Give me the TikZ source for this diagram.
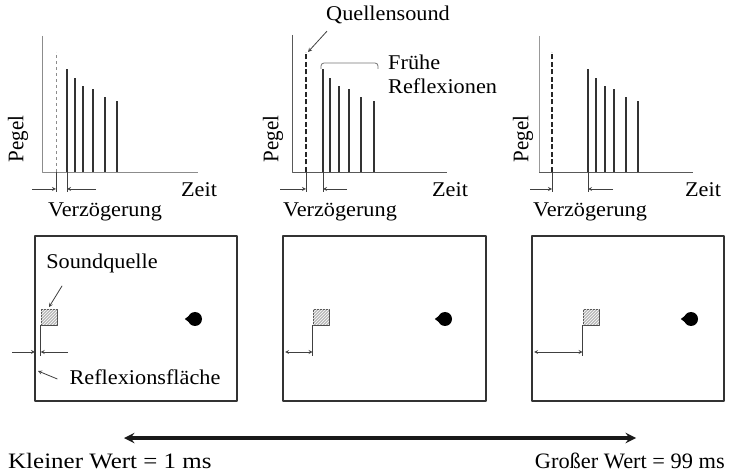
\documentclass[tikz,border=0pt]{standalone}
\usepackage{fontspec}
\setmainfont{Liberation Serif}
\usetikzlibrary{patterns}

\begin{document}
\begin{tikzpicture}[
        x={(1pt,0pt)},
        y={(0pt,-1pt)},
        line join=round,
        % Stile
        axis/.style={black!65, line width=0.9pt},
        bar/.style={black!80, line width=2.2pt},
        direct/.style={black!85, line width=2.2pt, dash pattern=on 5pt off 2.5pt},
        dim/.style={black!75, line width=0.8pt},
        room/.style={black!80, line width=2.4pt},
        lbl/.style={font=\fontsize{21}{24}\selectfont, inner sep=0pt, xscale=1.06},
        srcbox/.style={draw=black!70, line width=0.8pt, fill=gray!55, minimum size=16pt,
            inner sep=0pt, postaction={pattern=north east lines, pattern color=white}},
        listener/.style={circle, fill=black, minimum size=14pt, inner sep=0pt},
    ]
    \useasboundingbox (0,0) rectangle (729,473);

    % ---------- obere Reihe: Pegel ueber Zeit ----------
    % Panel 1 (kleine Verzoegerung)
    \def\ax{42}\def\dx{56}\def\bx{67}
    \draw[axis, black!45] (\ax,36) -- (\ax,172) -- (198,172);
    \draw[black!45, dashed, line width=0.9pt] (\dx,172) -- (\dx,52);
    \foreach \o/\t in {0/69,8/78,16/86,26/89,38/97,50/101}
        \draw[bar] (\bx+\o,172) -- (\bx+\o,\t);
    \draw[dim] (\dx,172) -- (\dx,192);
    \draw[dim] (\bx,172) -- (\bx,192);
    \draw[dim,-stealth] (\dx-24,189) -- (\dx,189);
    \draw[dim,-stealth] (\bx+29,189) -- (\bx,189);
    \node[lbl, rotate=90] (p1) at (\ax-24,139) {Pegel};
    \node[lbl] (z1) at (\ax+157,190) {Zeit};
    \node[lbl] (v1) at (105,212) {Verzögerung};

    % Panel 2 (mittlere Verzoegerung)
    \def\ax{292}\def\dx{306}\def\bx{323}
    \draw[axis] (\ax,35) -- (\ax,172) -- (447,172);
    \draw[direct] (\dx,172) -- (\dx,52);
    \foreach \o/\t in {0/69,7/78,16/86,26/89,38/97,51/101}
        \draw[bar] (\bx+\o,172) -- (\bx+\o,\t);
    \draw[dim] (\dx,172) -- (\dx,192);
    \draw[dim] (\bx,172) -- (\bx,192);
    \draw[dim,-stealth] (\dx-26,189) -- (\dx,189);
    \draw[dim,-stealth] (\bx+24,189) -- (\bx,189);
    \node[lbl, rotate=90] (p2) at (\ax-19,139) {Pegel};
    \node[lbl] (z2) at (\ax+158,190) {Zeit};
    \node[lbl] (v2) at (340,212) {Verzögerung};
    % Beschriftung Quellensound / fruehe Reflexionen
    \coordinate (qtip) at (308,52);
    \node[lbl] (qs) at (388,15) {Quellensound};
    \draw[dim,-stealth] ([shift={(1pt,-7pt)}]qs.south west) -- (qtip);
    \node[lbl, anchor=west] (fr) at (388,62) {Frühe};
    \node[lbl, anchor=west] (rx) at (388,86) {Reflexionen};
    \draw[dim, black!55, rounded corners=3pt] (321,69) -- (321,63) -- (378,63) -- (378,69);

    % Panel 3 (grosse Verzoegerung)
    \def\ax{539}\def\dx{552}\def\bx{588}
    \draw[axis, black!40] (\ax,36) -- (\ax,172);
    \draw[axis] (\ax,172) -- (693,172);
    \draw[direct] (\dx,172) -- (\dx,52);
    \foreach \o/\t in {0/69,8/78,17/86,26/89,38/97,50/101}
        \draw[bar] (\bx+\o,172) -- (\bx+\o,\t);
    \draw[dim] (\dx,172) -- (\dx,192);
    \draw[dim] (\bx,172) -- (\bx,192);
    \draw[dim,-stealth] (\dx-22,189) -- (\dx,189);
    \draw[dim,-stealth] (\bx+25,189) -- (\bx,189);
    \node[lbl, rotate=90] (p3) at (\ax-16,139) {Pegel};
    \node[lbl] (z3) at (703,190) {Zeit};
    \node[lbl] (v3) at (590,212) {Verzögerung};

    % ---------- untere Reihe: Raeume ----------
    % Raum 1
    \draw[room] (35,236) rectangle (237,401);
    \node[srcbox] (s1) at (49,317) {};
    \coordinate (f1) at (s1.south west |- 0,356);
    \draw[dim] (s1.south west) -- (f1);
    \coordinate (w1) at (35,352);
    \draw[dim,-stealth] (12,352) -- (w1);
    \draw[dim,-stealth] (68,352) -- (w1 -| s1.west);
    \node[listener] (h1) at (195,319) {};
    \fill (h1.west) ++(-3,0) -- ++(4,-3) -- ++(0,6) -- cycle;
    \node[lbl] (sq) at (102,263) {Soundquelle};
    \draw[dim,-stealth] ([shift={(16pt,-13pt)}]sq.south west) -- ([yshift=1.5pt]s1.north);
    \node[lbl] (rf) at (145,377) {Reflexionsfläche};
    \draw[dim,-stealth] ([xshift=-12pt,yshift=-2pt]rf.west) -- (38,371);

    % Raum 2
    \draw[room] (283,236) rectangle (486,401);
    \node[srcbox] (s2) at (321,317) {};
    \coordinate (f2) at (s2.south west |- 0,356);
    \draw[dim] (s2.south west) -- (f2);
    \coordinate (w2) at (285,352);
    \draw[dim,stealth-stealth] (w2) -- (w2 -| s2.west);
    \node[listener] (h2) at (445,319) {};
    \fill (h2.west) ++(-3,0) -- ++(4,-3) -- ++(0,6) -- cycle;

    % Raum 3
    \draw[room] (532,236) rectangle (724,401);
    \node[srcbox] (s3) at (591,317) {};
    \coordinate (f3) at (s3.south west |- 0,356);
    \draw[dim] (s3.south west) -- (f3);
    \coordinate (w3) at (534,352);
    \draw[dim,stealth-stealth] (w3) -- (w3 -| s3.west);
    \node[listener] (h3) at (691,319) {};
    \fill (h3.west) ++(-3,0) -- ++(4,-3) -- ++(0,6) -- cycle;

    % ---------- Skala ----------
    \coordinate (lo) at (124,438);
    \coordinate (hi) at (636,438);
    \draw[black!90, line width=3.5pt, stealth-stealth] (lo) -- (hi);
    \node[lbl, font=\fontsize{22}{26}\selectfont, xscale=1.07, anchor=west] (kw) at (8,461) {Kleiner Wert = 1 ms};
    \node[lbl, font=\fontsize{22}{26}\selectfont, xscale=0.96, anchor=east] (gw) at (725,461) {Großer Wert = 99 ms};
\end{tikzpicture}
\end{document}
